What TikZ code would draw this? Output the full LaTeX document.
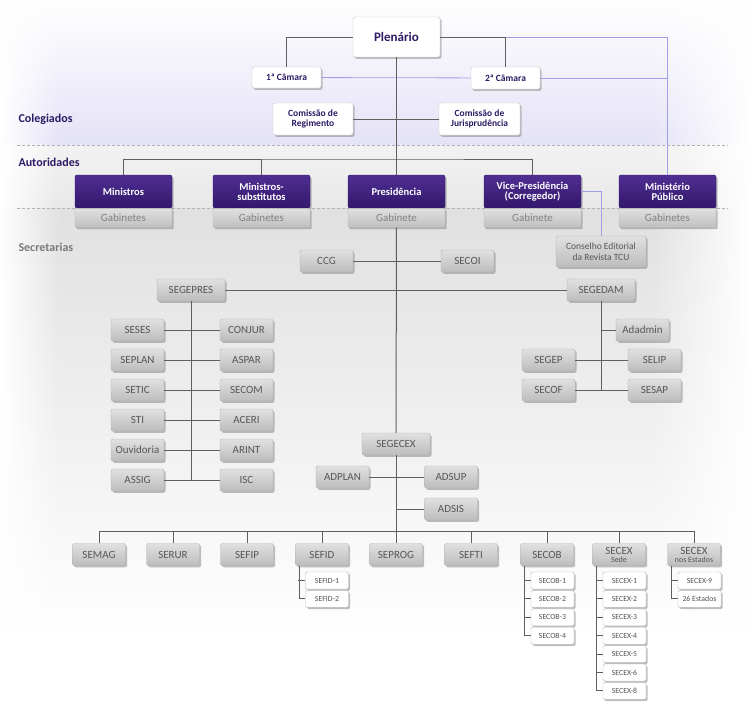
\documentclass[tikz,border=0pt]{standalone}
\usepackage{fontspec}
\setmainfont{Carlito}
\usepackage{tikz}
\usetikzlibrary{positioning, calc, shadows, fadings}

\definecolor{tcupurple}{RGB}{50,24,108}
\definecolor{tcupurplelt}{RGB}{80,46,146}
\definecolor{tcuink}{RGB}{44,26,100}
\definecolor{tculav}{RGB}{228,226,246}
\definecolor{tcublue}{RGB}{160,160,232}
\definecolor{tculine}{RGB}{95,95,95}

\begin{document}
\begin{tikzpicture}[x=1pt, y=-1pt,
    link/.style={draw=tculine, line width=1pt},
    bluelink/.style={draw=tcublue, line width=0.8pt},
    boxshadow/.style={drop shadow={shadow xshift=1.6pt, shadow yshift=-1.8pt, opacity=0.5}},
    colbox/.style={draw=gray!45, fill=white, rounded corners=2pt, boxshadow, inner sep=1pt, align=center, text=tcuink, font=\bfseries\fontsize{9.5}{10}\selectfont},
    autbox/.style={draw=tcupurple, top color=tcupurplelt, bottom color=tcupurple, rounded corners=2pt, boxshadow, minimum width=97pt, minimum height=33pt, inner sep=1pt, align=center, text=white, font=\bfseries\fontsize{10.5}{10}\selectfont},
    gabbox/.style={draw=gray!55, top color=black!12, bottom color=black!25, rounded corners=1pt, boxshadow, minimum width=97pt, minimum height=19pt, inner sep=1pt, text=black!50, font=\fontsize{11}{11}\selectfont},
    secbox/.style={draw=gray!60, top color=black!12, bottom color=black!26, rounded corners=2pt, boxshadow, minimum width=53pt, minimum height=22pt, inner sep=1pt, align=center, text=black!66, font=\fontsize{11}{11}\selectfont},
    subbox/.style={draw=gray!55, fill=white, rounded corners=1.5pt, boxshadow, minimum width=43pt, minimum height=17pt, inner sep=1pt, text=black!68, font=\fontsize{7.8}{8}\selectfont},
    zone/.style={anchor=west, font=\bfseries\fontsize{12}{12}\selectfont, text=tcuink}
]
    \useasboundingbox (0,0) rectangle (750,726);

    % fundo
    \fill[top color=white, bottom color=tculav] (0,0) rectangle (750,145);
    \fill[top color=black!5, bottom color=black!9] (0,145) rectangle (750,208);
    \fill[top color=black!12, bottom color=white] (0,208) rectangle (750,640);
    \fill[white, path fading=east] (0,0) rectangle (60,650);
    \fill[white, path fading=west] (650,0) rectangle (750,650);
    \draw[gray!60, dash pattern=on 3pt off 2pt] (17,145) -- (728,145);
    \draw[gray!60, dash pattern=on 3pt off 2pt] (17,208) -- (728,208);

    \node[zone] (colegiados)  at (15,119) {Colegiados};
    \node[zone] (autoridades) at (15,162) {Autoridades};
    \node[zone, text=black!52] (secretarias) at (15,247) {Secretarias};

    % colegiados
    \node[colbox, minimum width=87pt, minimum height=40pt, font=\bfseries\fontsize{13}{13}\selectfont] (plen) at (396.5,37) {Plenário};
    \node[colbox, minimum width=69pt, minimum height=21pt] (cam1) at (286.5,77.5) {1ª Câmara};
    \node[colbox, minimum width=69pt, minimum height=22pt] (cam2) at (505.5,78) {2ª Câmara};
    \node[colbox, minimum width=80pt, minimum height=32pt] (creg) at (313,119) {Comissão de\\Regimento};
    \node[colbox, minimum width=81pt, minimum height=32pt] (cjur) at (479.5,119) {Comissão de\\Jurisprudência};

    % autoridades
    \node[autbox] (min)  at (123.5,191.5) {Ministros};
    \node[autbox] (msub) at (261.5,191.5) {Ministros-\\substitutos};
    \node[autbox] (pres) at (396.5,191.5) {Presidência};
    \node[autbox] (vice) at (532.5,191.5) {Vice-Presidência\\(Corregedor)};
    \node[autbox] (mp)   at (667.5,191.5) {Ministério\\Público};
    \node[gabbox, below=0pt of min]  (mingab)  {Gabinetes};
    \node[gabbox, below=0pt of msub] (msubgab) {Gabinetes};
    \node[gabbox, below=0pt of pres] (presgab) {Gabinete};
    \node[gabbox, below=0pt of vice] (vicegab) {Gabinete};
    \node[gabbox, below=0pt of mp]   (mpgab)   {Gabinetes};
    \coordinate (autbar) at (396.5,159);

    % secretarias
    \node[secbox, minimum width=90pt, minimum height=31pt, font=\fontsize{9.5}{11}\selectfont] (cons) at (601,251.5) {Conselho Editorial\\da Revista TCU};
    \node[secbox] (ccg)   at (326.5,261) {CCG};
    \node[secbox] (secoi) at (467.5,261) {SECOI};
    \node[secbox, minimum width=68pt] (segepres) at (191,290) {SEGEPRES};
    \node[secbox, minimum width=68pt] (segedam)  at (601,290) {SEGEDAM};

    \foreach \i/\l/\r [evaluate=\i as \y using 300+30*\i] in
        {1/SESES/CONJUR, 2/SEPLAN/ASPAR, 3/SETIC/SECOM, 4/STI/ACERI, 5/Ouvidoria/ARINT, 6/ASSIG/ISC}
    {
        \node[secbox] (gl\i) at (137.5,\y) {\l};
        \node[secbox] (gr\i) at (246.5,\y) {\r};
        \draw[link] (gl\i) -- (gr\i);
    }

    \node[secbox] (adadmin) at (642.5,330) {Adadmin};
    \node[secbox] (segep)   at (548.5,360) {SEGEP};
    \node[secbox] (selip)   at (654.5,360) {SELIP};
    \node[secbox] (secof)   at (548.5,390) {SECOF};
    \node[secbox] (sesap)   at (654.5,390) {SESAP};

    \node[secbox, minimum width=68pt] (segecex) at (396,444) {SEGECEX};
    \node[secbox] (adplan) at (342.5,477) {ADPLAN};
    \node[secbox] (adsup)  at (451,477) {ADSUP};
    \node[secbox] (adsis)  at (451,509) {ADSIS};

    \node[secbox] (semag)  at (99,554.5)  {SEMAG};
    \node[secbox] (serur)  at (173,554.5) {SERUR};
    \node[secbox] (sefip)  at (247,554.5) {SEFIP};
    \node[secbox] (sefid)  at (322,554.5) {SEFID};
    \node[secbox] (seprog) at (396,554.5) {SEPROG};
    \node[secbox] (sefti)  at (471,554.5) {SEFTI};
    \node[secbox] (secob)  at (547,554.5) {SECOB};
    \node[secbox, font=\fontsize{11}{8}\selectfont] (secexsede) at (619,554.5) {SECEX\\{\fontsize{8}{8}\selectfont Sede}};
    \node[secbox, font=\fontsize{11}{8}\selectfont] (secexest)  at (694,554.5) {SECEX\\{\fontsize{8}{8}\selectfont nos Estados}};

    \foreach \i/\t in {1/SEFID-1, 2/SEFID-2}
        \node[subbox] (sefid-\i) at ($(sefid)+(5,7.6+18.4*\i)$) {\t};
    \foreach \i/\t in {1/SECOB-1, 2/SECOB-2, 3/SECOB-3, 4/SECOB-4}
        \node[subbox] (secob-\i) at ($(secob)+(5.5,7.6+18.4*\i)$) {\t};
    \foreach \i/\t in {1/SECEX-1, 2/SECEX-2, 3/SECEX-3, 4/SECEX-4, 5/SECEX-5, 6/SECEX-6, 7/SECEX-8}
        \node[subbox] (secexsede-\i) at ($(secexsede)+(5.5,7.6+18.4*\i)$) {\t};
    \foreach \i/\t in {1/SECEX-9, 2/26 Estados}
        \node[subbox] (secexest-\i) at ($(secexest)+(5.5,7.6+18.4*\i)$) {\t};

    % ligacoes
    \draw[bluelink] (cam2.north |- plen.east) -| (mp.north);
    \draw[bluelink] (cam1) -- (cam2);
    \draw[bluelink] (cam2.east) -- (cam2.east -| mp);
    \draw[bluelink] (vice.east) -| (cons.north);
    \draw[link] (plen.west) -| (cam1.north);
    \draw[link] (plen.east) -| (cam2.north);
    \draw[link] (creg) -- (cjur);
    \draw[link] (plen) -- (pres);
    \draw[link] (min.north) |- (autbar) -| (vice.north);
    \draw[link] (msub.north) -- (msub.north |- autbar);
    \draw[link] (presgab) -- (segecex);
    \draw[link] (ccg) -- (secoi);
    \draw[link] (segepres) -- (segedam);
    \draw[link] (segepres) -- (segepres |- gr6);
    \draw[link] (segedam) -- (segedam |- sesap);
    \draw[link] (adadmin.west) -- (adadmin.west -| segedam);
    \draw[link] (segep) -- (selip);
    \draw[link] (secof) -- (sesap);
    \draw[link] (adplan) -- (adsup);
    \draw[link] (adsis.west) -- (adsis.west -| segecex);
    \draw[link] (segecex) -- (seprog);
    \draw[link] (semag.north) -- ++(0,-12) -| (secexest.north);
    \foreach \n in {serur, sefip, sefid, sefti, secob, secexsede}
        \draw[link] (\n.north) -- ++(0,-12);

    \draw[link] ($(sefid.south west)+(4,0)$) |- (sefid-2);
    \draw[link] (sefid-1.west) -- ++(-7,0);
    \draw[link] ($(secob.south west)+(4,0)$) |- (secob-4);
    \foreach \i in {1,2,3}
        \draw[link] (secob-\i.west) -- ++(-7,0);
    \draw[link] ($(secexsede.south west)+(4,0)$) |- (secexsede-7);
    \foreach \i in {1,...,6}
        \draw[link] (secexsede-\i.west) -- ++(-7,0);
    \draw[link] ($(secexest.south west)+(4,0)$) |- (secexest-2);
    \draw[link] (secexest-1.west) -- ++(-7,0);
\end{tikzpicture}
\end{document}
